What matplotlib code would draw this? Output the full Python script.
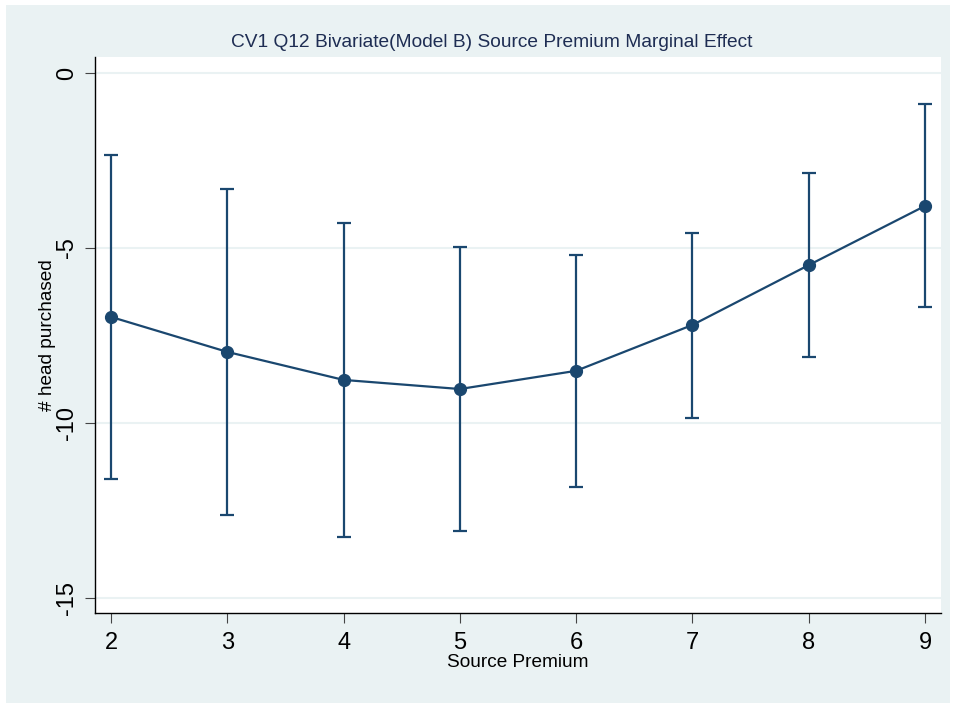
import numpy as np
import matplotlib.pyplot as plt
from matplotlib.patches import Rectangle

plt.rcParams['font.family'] = ['Liberation Sans', 'DejaVu Sans']

# Marginal effects
premium = [2, 3, 4, 5, 6, 7, 8, 9]
margin = [-6.97, -7.97, -8.77, -9.03, -8.51, -7.20, -5.49, -3.80]
ci_upper = [-2.34, -3.31, -4.29, -4.97, -5.20, -4.57, -2.86, -0.89]
ci_lower = [-11.60, -12.63, -13.26, -13.09, -11.83, -9.86, -8.11, -6.69]
yticks = [0, -5, -10, -15]

navy = '#1a476f'
bg = '#eaf2f3'

fig = plt.figure(figsize=(9.56, 7.03), dpi=100, facecolor='white')
fig.patches.append(Rectangle((6 / 956, 0), 944 / 956, 698 / 703,
                             transform=fig.transFigure, facecolor=bg,
                             edgecolor='none', zorder=-10))
ax = fig.add_axes([95 / 956, 90 / 703, 846 / 956, 556 / 703])
ax.set_facecolor('white')

m = np.array(margin)
yerr = [m - np.array(ci_lower), np.array(ci_upper) - m]
ax.errorbar(premium, margin, yerr=yerr, color=navy, lw=1.6, elinewidth=1.6,
            capsize=4.8, capthick=1.6, marker='o', markersize=8.5,
            zorder=3)

ax.set_xlim(1.862, 9.138)
ax.set_ylim(-15.43, 0.457)
ax.set_xticks(premium)
ax.set_yticks(yticks)
ax.set_yticklabels([str(t) for t in yticks], rotation=90, va='center')
ax.grid(axis='y', color=bg, lw=1.5)
ax.set_axisbelow(True)

for s in ['top', 'right']:
    ax.spines[s].set_visible(False)
for s in ['left', 'bottom']:
    ax.spines[s].set_color('black')
    ax.spines[s].set_linewidth(1.0)
ax.tick_params(axis='x', length=7, width=0.8, color='#444444', labelsize=17, pad=7)
ax.tick_params(axis='y', length=7, width=0.8, color='#444444', labelsize=17, pad=5)

ax.set_title('CV1 Q12 Bivariate(Model B) Source Premium Marginal Effect',
             fontsize=13.8, color='#1e2d53', pad=7, x=0.4687)
ax.set_xlabel('Source Premium', fontsize=13.7, labelpad=0)
ax.set_ylabel('# head purchased', fontsize=13.7, labelpad=0)

fig.savefig('out.png', dpi=100, facecolor='white')
